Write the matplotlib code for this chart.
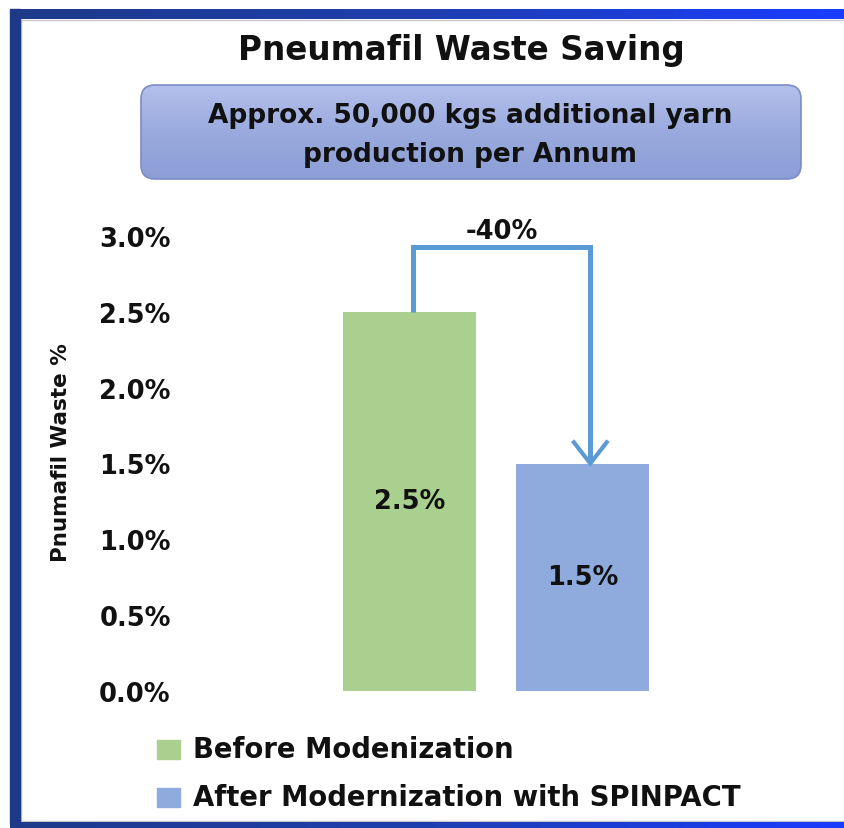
import numpy as np
import matplotlib.pyplot as plt
from matplotlib.patches import FancyBboxPatch, Rectangle
from matplotlib.colors import LinearSegmentedColormap

# data
categories = ['Before Modenization', 'After Modernization with SPINPACT']
waste_pct = [2.5, 1.5]
bar_colors = ['#a9d08e', '#8faadc']
yticks = [0.0, 0.5, 1.0, 1.5, 2.0, 2.5, 3.0]
change_label = '-40%'

W, H = 844, 829
plt.rcParams['font.family'] = ['DejaVu Sans']
plt.rcParams['font.weight'] = 'bold'
plt.rcParams['axes.labelweight'] = 'bold'
txt_col = '#111111'

fig = plt.figure(figsize=(W / 100, H / 100), dpi=100)

# background overlay in pixel coords (y down)
bg = fig.add_axes([0, 0, 1, 1])
bg.set_xlim(0, W)
bg.set_ylim(H, 0)
bg.axis('off')

# frame: navy left side, gradient top/bottom
frame_cmap = LinearSegmentedColormap.from_list('frame', ['#1d3a8a', '#1f3fb0', '#1a3cff'])
grad = np.linspace(0, 1, 256).reshape(1, -1)
bg.imshow(grad, cmap=frame_cmap, extent=(10, W, 20, 10), aspect='auto', zorder=2)
bg.imshow(grad, cmap=frame_cmap, extent=(10, W, 829, 823), aspect='auto', zorder=2)
bg.add_patch(Rectangle((10, 10), 10, 815, color='#1d3a8a', zorder=3))
bg.plot([21, W], [21, 21], color='#c8c8c8', lw=1, zorder=1)
bg.plot([21, W], [822, 822], color='#c8c8c8', lw=1, zorder=1)
bg.plot([21, 21], [21, 822], color='#c8c8c8', lw=1, zorder=1)

# title
bg.text(461, 50, 'Pneumafil Waste Saving', ha='center', va='center',
        fontsize=23.5, color=txt_col)

# rounded gradient box
box = FancyBboxPatch((141, 86), 660, 94, boxstyle='round,pad=0,rounding_size=14',
                     facecolor='none', edgecolor='#7d8cc4', lw=1.2, zorder=4)
bg.add_patch(box)
box_cmap = LinearSegmentedColormap.from_list('box', ['#b4c0ec', '#9aaade', '#8c9ed6'])
im = bg.imshow(np.linspace(0, 1, 256).reshape(-1, 1), cmap=box_cmap,
               extent=(141, 801, 180, 86), aspect='auto', zorder=3)
im.set_clip_path(box)
bg.text(470, 116, 'Approx. 50,000 kgs additional yarn', ha='center', va='center',
        fontsize=19, color=txt_col, zorder=5)
bg.text(470, 155, 'production per Annum', ha='center', va='center',
        fontsize=19, color=txt_col, zorder=5)

# legend
for i, (lab, col) in enumerate(zip(categories, bar_colors)):
    yc = 750 + i * 48
    bg.add_patch(Rectangle((157, yc - 9.5), 23, 19, color=col, zorder=3))
    bg.text(193, yc, lab, ha='left', va='center', fontsize=19.8, color=txt_col)

# chart axes: zero at y=692px, 3% at y=237px
ax_left, ax_right = 175, 800
y0, y3 = 692, 237
ax = fig.add_axes([ax_left / W, (H - y0) / H, (ax_right - ax_left) / W, (y0 - y3) / H])
ax.patch.set_alpha(0)
x = np.arange(len(waste_pct))
px_per_unit = 173
xl = -(409.5 - ax_left) / px_per_unit
ax.set_xlim(xl, xl + (ax_right - ax_left) / px_per_unit)
ax.set_ylim(0, 3.0)
ax.bar(x, waste_pct, width=0.77, color=bar_colors)
for xi, v in zip(x, waste_pct):
    ax.text(xi, v / 2, f'{v:.1f}%', ha='center', va='center', fontsize=18.5,
            color=txt_col)

ax.set_yticks(yticks)
ax.set_yticklabels([f'{t:.1f}%' for t in yticks], fontsize=18.5, color=txt_col)
ax.tick_params(axis='y', length=0, pad=3)
ax.set_xticks([])
for s in ax.spines.values():
    s.set_visible(False)
ax.set_ylabel('Pnumafil Waste %', fontsize=15.5, fontweight='bold', color=txt_col)
ax.yaxis.set_label_coords((61 - ax_left) / (ax_right - ax_left), (y0 - 453) / (y0 - y3))
ax.yaxis.label.set_va('center')

# elbow arrow from first bar to second bar
top = 2.93
xa, xb = x[0] + 0.02, x[1] + 0.045
arrow_col = '#5b9bd5'
ax.plot([xa, xa, xb, xb], [waste_pct[0], top, top, waste_pct[1] + 0.02],
        color=arrow_col, lw=3.6, solid_joinstyle='miter', solid_capstyle='butt')
ax.plot([xb - 0.095, xb, xb + 0.095], [waste_pct[1] + 0.14, waste_pct[1], waste_pct[1] + 0.14],
        color=arrow_col, lw=3.0, solid_joinstyle='miter')
ax.text((xa + xb) / 2, top + 0.1, change_label, ha='center', va='center',
        fontsize=18.5, color=txt_col)

fig.savefig('out.png', dpi=100)
